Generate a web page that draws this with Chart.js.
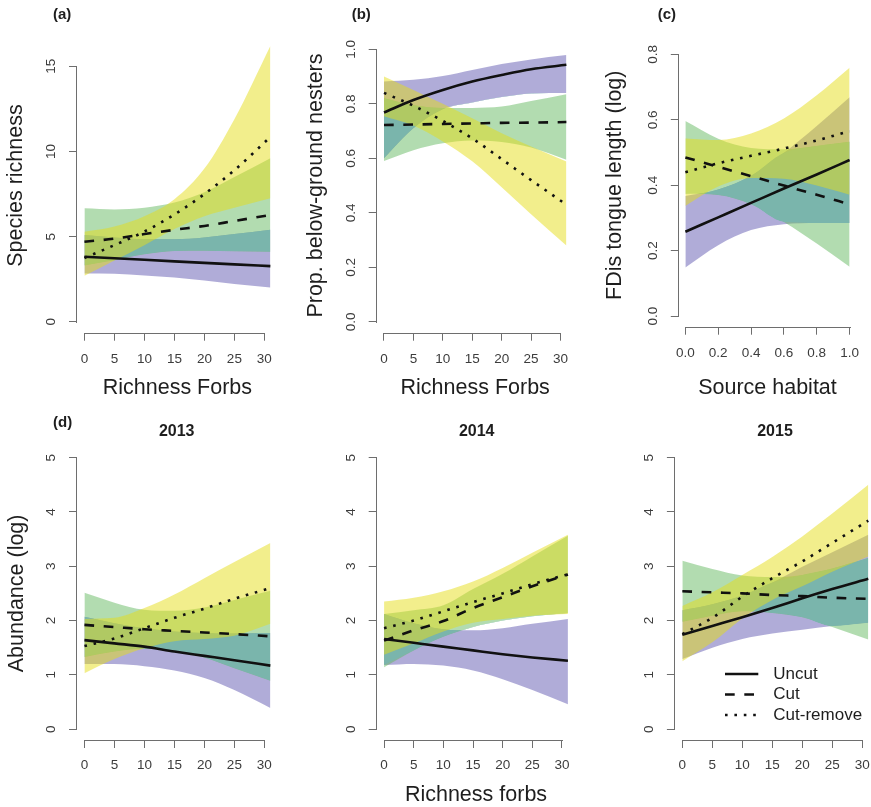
<!DOCTYPE html>
<html><head><meta charset="utf-8">
<script src="https://cdn.jsdelivr.net/npm/chart.js@4.4.1/dist/chart.umd.min.js"></script>
<style>
html,body{margin:0;padding:0;background:#fff;overflow:hidden;width:871px;height:807px;position:relative;}
canvas{position:absolute;}
</style></head><body>
<canvas id="pa"></canvas><canvas id="pb"></canvas><canvas id="pc"></canvas>
<canvas id="pd1"></canvas><canvas id="pd2"></canvas><canvas id="pd3"></canvas>
<script>
// ---------------- DATA ----------------
const treatments = ['Uncut', 'Cut', 'Cut-remove'];
const forbs = [0, 5, 10, 15, 20, 25, 31];
const source = [0, 0.2, 0.4, 0.6, 0.8, 1.0];
const forbTicks = [0, 5, 10, 15, 20, 25, 30];
const sourceTicks = [0, 0.2, 0.4, 0.6, 0.8, 1.0];

// (a) Species richness vs Richness Forbs
const a_uncut_fit = [3.82, 3.73, 3.64, 3.55, 3.46, 3.37, 3.27];
const a_uncut_lo  = [2.84, 2.82, 2.72, 2.60, 2.42, 2.22, 2.02];
const a_uncut_hi  = [5.10, 4.95, 4.85, 4.85, 4.95, 5.15, 5.40];
const a_cut_fit   = [4.70, 4.88, 5.15, 5.40, 5.63, 5.92, 6.27];
const a_cut_lo    = [3.31, 3.61, 3.96, 4.15, 4.17, 4.14, 4.12];
const a_cut_hi    = [6.67, 6.60, 6.70, 7.00, 7.60, 8.50, 9.60];
const a_cr_fit    = [3.75, 4.50, 5.30, 6.30, 7.50, 8.90, 10.85];
const a_cr_lo     = [2.70, 3.60, 4.50, 5.45, 6.20, 6.70, 7.25];
const a_cr_hi     = [5.29, 5.60, 6.20, 7.20, 9.00, 11.90, 16.20];

// (b) Prop. below-ground nesters vs Richness Forbs
const b_uncut_fit = [0.768, 0.814, 0.851, 0.882, 0.906, 0.927, 0.943];
const b_uncut_lo  = [0.600, 0.710, 0.780, 0.805, 0.825, 0.838, 0.840];
const b_uncut_hi  = [0.882, 0.888, 0.902, 0.924, 0.946, 0.963, 0.979];
const b_cut_fit   = [0.722, 0.724, 0.726, 0.728, 0.730, 0.731, 0.733];
const b_cut_lo    = [0.590, 0.630, 0.655, 0.665, 0.660, 0.640, 0.595];
const b_cut_hi    = [0.820, 0.795, 0.785, 0.785, 0.790, 0.810, 0.835];
const b_cr_fit    = [0.840, 0.793, 0.737, 0.673, 0.597, 0.520, 0.430];
const b_cr_lo     = [0.754, 0.720, 0.662, 0.589, 0.494, 0.395, 0.280];
const b_cr_hi     = [0.900, 0.851, 0.800, 0.747, 0.692, 0.643, 0.588];

// (c) FDis tongue length (log) vs Source habitat
const c_uncut_fit = [0.258, 0.302, 0.346, 0.390, 0.433, 0.477];
const c_uncut_lo  = [0.149, 0.217, 0.263, 0.281, 0.285, 0.285];
const c_uncut_hi  = [0.367, 0.387, 0.429, 0.499, 0.581, 0.669];
const c_cut_fit   = [0.485, 0.456, 0.428, 0.399, 0.371, 0.342];
const c_cut_lo    = [0.374, 0.370, 0.342, 0.288, 0.222, 0.151];
const c_cut_hi    = [0.596, 0.542, 0.514, 0.510, 0.520, 0.533];
const c_cr_fit    = [0.440, 0.467, 0.490, 0.512, 0.537, 0.565];
const c_cr_lo     = [0.337, 0.396, 0.422, 0.420, 0.399, 0.371];
const c_cr_hi     = [0.543, 0.538, 0.558, 0.604, 0.675, 0.759];

// (d) Abundance (log) vs Richness forbs, 2013
const d13_uncut_fit = [1.64, 1.58, 1.52, 1.43, 1.35, 1.27, 1.17];
const d13_uncut_lo  = [1.20, 1.20, 1.16, 1.08, 0.94, 0.72, 0.39];
const d13_uncut_hi  = [2.07, 1.95, 1.86, 1.80, 1.77, 1.76, 1.77];
const d13_cut_fit   = [1.92, 1.88, 1.84, 1.81, 1.78, 1.75, 1.71];
const d13_cut_lo    = [1.33, 1.43, 1.48, 1.44, 1.32, 1.12, 0.89];
const d13_cut_hi    = [2.51, 2.33, 2.20, 2.18, 2.24, 2.38, 2.55];
const d13_cr_fit    = [1.53, 1.67, 1.86, 2.05, 2.22, 2.40, 2.60];
const d13_cr_lo     = [1.03, 1.29, 1.49, 1.62, 1.66, 1.72, 1.94];
const d13_cr_hi     = [2.03, 2.05, 2.23, 2.48, 2.78, 3.08, 3.43];

// 2014
const d14_uncut_fit = [1.66, 1.59, 1.52, 1.45, 1.38, 1.32, 1.26];
const d14_uncut_lo  = [1.18, 1.20, 1.17, 1.08, 0.92, 0.72, 0.46];
const d14_uncut_hi  = [2.12, 1.95, 1.84, 1.82, 1.86, 1.94, 2.03];
const d14_cut_fit   = [1.63, 1.82, 1.99, 2.23, 2.43, 2.63, 2.85];
const d14_cut_lo    = [1.14, 1.45, 1.70, 1.88, 2.00, 2.08, 2.14];
const d14_cut_hi    = [2.12, 2.19, 2.28, 2.58, 2.86, 3.18, 3.56];
const d14_cr_fit    = [1.86, 2.00, 2.17, 2.34, 2.50, 2.67, 2.85];
const d14_cr_lo     = [1.37, 1.58, 1.80, 1.96, 2.03, 2.09, 2.12];
const d14_cr_hi     = [2.35, 2.42, 2.54, 2.72, 2.97, 3.25, 3.58];

// 2015
const d15_uncut_fit = [1.74, 1.90, 2.06, 2.23, 2.41, 2.58, 2.77];
const d15_uncut_lo  = [1.29, 1.50, 1.66, 1.76, 1.83, 1.90, 1.96];
const d15_uncut_hi  = [2.19, 2.30, 2.46, 2.70, 2.99, 3.26, 3.58];
const d15_cut_fit   = [2.54, 2.52, 2.50, 2.47, 2.45, 2.42, 2.40];
const d15_cut_lo    = [1.98, 2.09, 2.17, 2.14, 2.06, 1.88, 1.65];
const d15_cut_hi    = [3.10, 2.95, 2.83, 2.80, 2.84, 2.96, 3.15];
const d15_cr_fit    = [1.75, 2.05, 2.44, 2.78, 3.09, 3.43, 3.84];
const d15_cr_lo     = [1.25, 1.60, 2.04, 2.38, 2.63, 2.90, 3.18];
const d15_cr_hi     = [2.27, 2.52, 2.84, 3.17, 3.55, 3.97, 4.50];

// ---------------- STYLE ----------------
const FONT = '"Liberation Sans", Arial, Helvetica, sans-serif';
const BAND = ['rgba(97,89,177,0.5)', 'rgba(101,185,97,0.5)', 'rgba(229,221,25,0.5)'];
const OVERLAP_PG = 'rgb(122,181,172)';   // where Uncut and Cut intervals overlap
const DASH = [[], [9.7, 9.6], [2.6, 6.8]];
const LINE_COLOR = '#111111';
const AXIS_COLOR = '#6e6e6e';
const TICK_COLOR = '#3c3c3c';
const TITLE_COLOR = '#1e1e1e';

function pts(xs, ys) { return xs.map((x, i) => ({x: x, y: ys[i]})); }
const NONE = 'rgba(0,0,0,0)';

function buildDatasets(xs, series) {
  const ds = [];
  series.forEach((s, i) => {
    const order = 3 - i;
    ds.push({label: treatments[i] + ' low', data: pts(xs, s.lo), borderWidth: 0, borderColor: NONE, pointRadius: 0, fill: false, order: order});
    ds.push({label: treatments[i] + ' high', data: pts(xs, s.hi), borderWidth: 0, borderColor: NONE, backgroundColor: BAND[i], pointRadius: 0, fill: '-1', order: order});
  });
  // intersection of the Uncut and Cut intervals
  const P = series[0], G = series[1];
  const ovLo = P.lo.map((v, i) => Math.max(v, G.lo[i]));
  const ovHi = P.hi.map((v, i) => Math.min(v, G.hi[i]));
  ds.push({label: 'overlap low', data: pts(xs, ovLo), borderWidth: 0, borderColor: NONE, pointRadius: 0, fill: false, order: 1.5});
  ds.push({label: 'overlap high', data: pts(xs, ovHi), borderWidth: 0, borderColor: NONE, pointRadius: 0,
           fill: {target: '-1', above: OVERLAP_PG, below: NONE}, order: 1.5});
  series.forEach((s, i) => {
    ds.push({label: treatments[i], data: pts(xs, s.fit), borderColor: LINE_COLOR, borderWidth: 2.6, borderDash: DASH[i], borderCapStyle: 'butt', pointRadius: 0, fill: false, order: 0});
  });
  return ds;
}

const axisLines = {
  id: 'axisLines',
  afterDraw(chart) {
    const {ctx, chartArea: ca, scales: {x, y}} = chart;
    ctx.save();
    ctx.strokeStyle = AXIS_COLOR; ctx.lineWidth = 1; ctx.setLineDash([]);
    const xt = x.ticks, yt = y.ticks;
    const yb = Math.round(ca.bottom) + 0.5;
    ctx.beginPath();
    ctx.moveTo(Math.round(x.getPixelForValue(xt[0].value)), yb);
    ctx.lineTo(Math.round(x.getPixelForValue(xt[xt.length - 1].value)) + 1, yb);
    const xl = Math.round(ca.left) - 0.5;
    ctx.moveTo(xl, Math.round(y.getPixelForValue(yt[0].value)) + 1);
    ctx.lineTo(xl, Math.round(y.getPixelForValue(yt[yt.length - 1].value)));
    ctx.stroke();
    ctx.restore();
  }
};

const panelText = {
  id: 'panelText',
  afterDraw(chart, args, opts) {
    const ctx = chart.ctx;
    ctx.save();
    (opts.items || []).forEach(t => {
      ctx.font = t.font;
      ctx.fillStyle = t.color || TITLE_COLOR;
      ctx.textAlign = t.align || 'left';
      ctx.textBaseline = 'middle';
      ctx.fillText(t.text, t.x, t.y);
    });
    if (opts.legend) {
      const lg = opts.legend;
      treatments.forEach((name, i) => {
        const yy = lg.y + i * lg.dy;
        ctx.strokeStyle = LINE_COLOR; ctx.lineWidth = 2.6; ctx.lineCap = 'butt';
        ctx.setLineDash(DASH[i]);
        ctx.beginPath(); ctx.moveTo(lg.x1, yy); ctx.lineTo(lg.x2, yy); ctx.stroke();
        ctx.setLineDash([]);
        ctx.font = '17px ' + FONT; ctx.fillStyle = TITLE_COLOR;
        ctx.textAlign = 'left'; ctx.textBaseline = 'middle';
        ctx.fillText(name, lg.tx, yy);
      });
    }
    ctx.restore();
  }
};

function makePanel(p) {
  const cv = document.getElementById(p.id);
  cv.width = p.w; cv.height = p.h;
  cv.style.left = p.left + 'px'; cv.style.top = p.top + 'px';
  cv.style.width = p.w + 'px'; cv.style.height = p.h + 'px';
  const padTop = p.T - p.top, yWidth = p.L - p.left, padRight = p.left + p.w - p.R, xHeight = p.top + p.h - p.B;
  const tickFont = {family: FONT, size: 13.5, lineHeight: 1};
  const titleFont = {family: FONT, size: 21.5, lineHeight: 1};
  new Chart(cv, {
    type: 'line',
    data: {datasets: buildDatasets(p.xs, p.series)},
    options: {
      responsive: false, animation: false, devicePixelRatio: 1, events: [],
      layout: {padding: {top: padTop, right: padRight, left: 0, bottom: 0}},
      elements: {point: {radius: 0}, line: {cubicInterpolationMode: 'monotone'}},
      plugins: {
        legend: {display: false}, tooltip: {enabled: false}, title: {display: false},
        panelText: {items: p.texts, legend: p.legend}
      },
      scales: {
        x: {
          type: 'linear', min: p.xmin, max: p.xmax,
          afterBuildTicks: s => { s.ticks = p.xticks.map(v => ({value: v})); },
          afterFit: s => { s.height = xHeight; },
          grid: {display: true, drawOnChartArea: false, drawTicks: true, tickLength: 8, color: AXIS_COLOR, lineWidth: 1},
          border: {display: false},
          ticks: {font: tickFont, color: TICK_COLOR, padding: p.xpad, autoSkip: false, maxRotation: 0, minRotation: 0,
                  callback: v => p.xdec ? v.toFixed(p.xdec) : String(v)},
          title: {display: !!p.xtitle, text: p.xtitle || '', font: titleFont, color: TITLE_COLOR, padding: {top: 0, bottom: p.xtpad}}
        },
        y: {
          type: 'linear', min: p.ymin, max: p.ymax,
          afterBuildTicks: s => { s.ticks = p.yticks.map(v => ({value: v})); },
          afterFit: s => { s.width = yWidth; },
          grid: {display: true, drawOnChartArea: false, drawTicks: true, tickLength: 8, color: AXIS_COLOR, lineWidth: 1},
          border: {display: false},
          ticks: {font: tickFont, color: TICK_COLOR, padding: p.ypad, autoSkip: false, minRotation: 90, maxRotation: 90, crossAlign: 'center',
                  callback: v => p.ydec ? v.toFixed(p.ydec) : String(v)},
          title: {display: !!p.ytitle, text: p.ytitle || '', font: titleFont, color: TITLE_COLOR, padding: {top: p.ytpad, bottom: 0}}
        }
      }
    },
    plugins: [axisLines, panelText]
  });
}

const LBL = 'bold 15px ' + FONT;
const YR = 'bold 16px ' + FONT;

makePanel({id: 'pa', left: 0, top: 0, w: 290, h: 400, L: 77, T: 38.4, R: 277.8, B: 332.7,
  xmin: -1.24, xmax: 32.24, ymin: -0.64, ymax: 16.64, xs: forbs, xticks: forbTicks, yticks: [0, 5, 10, 15],
  xpad: 11.8, ypad: 9.8, xtitle: 'Richness Forbs', xtpad: 1.3, ytitle: 'Species richness', ytpad: 5.6,
  series: [{fit: a_uncut_fit, lo: a_uncut_lo, hi: a_uncut_hi}, {fit: a_cut_fit, lo: a_cut_lo, hi: a_cut_hi}, {fit: a_cr_fit, lo: a_cr_lo, hi: a_cr_hi}],
  texts: [{text: '(a)', x: 53, y: 15, font: LBL}]});

makePanel({id: 'pb', left: 290, top: 0, w: 290, h: 400, L: 376.7, T: 38.4, R: 577.1, B: 332.7,
  xmin: -1.24, xmax: 32.24, ymin: -0.04, ymax: 1.04, xs: forbs, xticks: forbTicks, yticks: [0, 0.2, 0.4, 0.6, 0.8, 1.0], ydec: 1,
  xpad: 11.8, ypad: 7.9, xtitle: 'Richness Forbs', xtpad: 1.3, ytitle: 'Prop. below-ground nesters', ytpad: 15.3,
  series: [{fit: b_uncut_fit, lo: b_uncut_lo, hi: b_uncut_hi}, {fit: b_cut_fit, lo: b_cut_lo, hi: b_cut_hi}, {fit: b_cr_fit, lo: b_cr_lo, hi: b_cr_hi}],
  texts: [{text: '(b)', x: 61.7, y: 15, font: LBL}]});

makePanel({id: 'pc', left: 580, top: 0, w: 291, h: 400, L: 678.8, T: 43.8, R: 864.6, B: 326.7,
  xmin: -0.04, xmax: 1.04, ymin: -0.032, ymax: 0.832, xs: source, xticks: sourceTicks, yticks: [0, 0.2, 0.4, 0.6, 0.8], xdec: 1, ydec: 1,
  xpad: 11.8, ypad: 7.9, xtitle: 'Source habitat', xtpad: 1.3, ytitle: 'FDis tongue length (log)', ytpad: 24.2,
  series: [{fit: c_uncut_fit, lo: c_uncut_lo, hi: c_uncut_hi}, {fit: c_cut_fit, lo: c_cut_lo, hi: c_cut_hi}, {fit: c_cr_fit, lo: c_cr_lo, hi: c_cr_hi}],
  texts: [{text: '(c)', x: 77.7, y: 15, font: LBL}]});

makePanel({id: 'pd1', left: 0, top: 400, w: 290, h: 407, L: 77, T: 446.8, R: 277.8, B: 740,
  xmin: -1.24, xmax: 32.24, ymin: -0.2, ymax: 5.2, xs: forbs, xticks: forbTicks, yticks: [0, 1, 2, 3, 4, 5],
  xpad: 10.3, ypad: 13.5, ytitle: 'Abundance (log)', ytpad: 6,
  series: [{fit: d13_uncut_fit, lo: d13_uncut_lo, hi: d13_uncut_hi}, {fit: d13_cut_fit, lo: d13_cut_lo, hi: d13_cut_hi}, {fit: d13_cr_fit, lo: d13_cr_lo, hi: d13_cr_hi}],
  texts: [{text: '(d)', x: 53, y: 23.3, font: LBL}, {text: '2013', x: 176.7, y: 31.7, font: YR, align: 'center'}]});

makePanel({id: 'pd2', left: 290, top: 400, w: 290, h: 407, L: 376.7, T: 446.8, R: 577.1, B: 740,
  xmin: -1.24, xmax: 32.24, ymin: -0.2, ymax: 5.2, xs: forbs, xticks: forbTicks, yticks: [0, 1, 2, 3, 4, 5],
  xpad: 10.3, ypad: 13.5, xtitle: 'Richness forbs', xtpad: 1.3,
  series: [{fit: d14_uncut_fit, lo: d14_uncut_lo, hi: d14_uncut_hi}, {fit: d14_cut_fit, lo: d14_cut_lo, hi: d14_cut_hi}, {fit: d14_cr_fit, lo: d14_cr_lo, hi: d14_cr_hi}],
  texts: [{text: '2014', x: 186.7, y: 31.7, font: YR, align: 'center'}]});

makePanel({id: 'pd3', left: 580, top: 400, w: 310, h: 407, L: 674.9, T: 446.8, R: 875.7, B: 740,
  xmin: -1.24, xmax: 32.24, ymin: -0.2, ymax: 5.2, xs: forbs, xticks: forbTicks, yticks: [0, 1, 2, 3, 4, 5],
  xpad: 10.3, ypad: 13.5,
  series: [{fit: d15_uncut_fit, lo: d15_uncut_lo, hi: d15_uncut_hi}, {fit: d15_cut_fit, lo: d15_cut_lo, hi: d15_cut_hi}, {fit: d15_cr_fit, lo: d15_cr_lo, hi: d15_cr_hi}],
  texts: [{text: '2015', x: 195, y: 31.7, font: YR, align: 'center'}],
  legend: {x1: 145, x2: 178.3, tx: 193.3, y: 274, dy: 20.5}});
</script>
</body></html>
